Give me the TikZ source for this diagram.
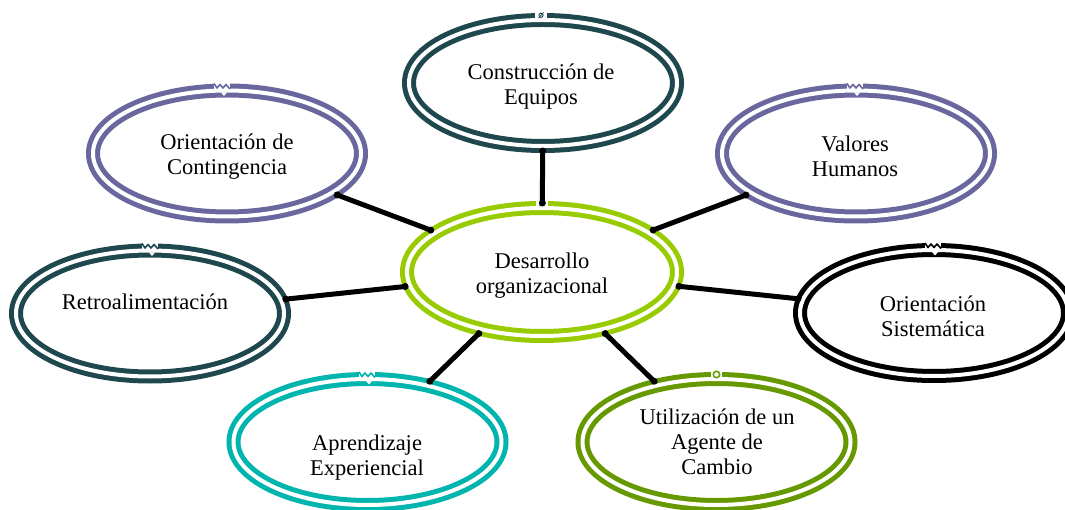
\documentclass[tikz,border=0pt]{standalone}
\usepackage{fontspec}
\setmainfont{Liberation Serif}
\usetikzlibrary{shapes.geometric}
\definecolor{dteal}{RGB}{30,72,78}
\definecolor{purp}{RGB}{106,103,158}
\definecolor{lime}{RGB}{153,204,0}
\definecolor{aqua}{RGB}{0,181,173}
\definecolor{olive}{RGB}{102,153,0}
\tikzset{
  ring/.style={ellipse, draw=#1, line width=5pt, double=white, double distance=4pt,
    minimum width=268pt, minimum height=126pt, inner sep=0pt, outer sep=5pt},
  lbl/.style={anchor=base, inner sep=0pt, font=\fontsize{22.5}{25}\selectfont},
  conn/.style={line width=5pt, line cap=butt},
  enddot/.style={circle, fill=black, inner sep=0pt, minimum size=7pt},
  gapfill/.style={fill=white, draw=none},
}
\newcommand{\lines}[1]{\begin{tabular}[t]{@{}c@{}}#1\end{tabular}}
% zigzag notch at the top of the outer ring
\newcommand{\zignotch}[3]{%
  \fill[gapfill] (#1-8,#2-71.5) rectangle (#1+8,#2-64);
  \draw[#3, line width=1.6pt, line join=round]
    (#1-8,#2-70) -- (#1-5,#2-65.5) -- (#1-2,#2-69) -- (#1+1,#2-65.5) -- (#1+4,#2-69) -- (#1+8,#2-64.5);
  \fill[white] (#1-1,#2-61) -- (#1+5,#2-61) -- (#1+2,#2-57.5) -- cycle;
}
\newcommand{\onotch}[3]{%
  \fill[gapfill] (#1-6,#2-71.5) rectangle (#1+6,#2-64);
  \draw[#3, line width=0.9pt] (#1,#2-67.7) circle (2.1);
  \draw[#3, line width=0.8pt] (#1-2.5,#2-64.8) -- (#1+2.5,#2-70.6);
}
\begin{document}
\begin{tikzpicture}[x=1pt,y=-1pt]
\useasboundingbox[fill=white] (0,0) rectangle (1065,510);

% rings
\node[ring=dteal] (T)  at (543,83)    {};
\node[ring=lime, minimum width=270pt, minimum height=128pt] (C) at (542,272) {};
\node[ring=purp]  (OC) at (227,153.5) {};
\node[ring=purp]  (VH) at (856,153.5) {};
\node[ring=dteal] (R)  at (150,313.5) {};
\node[ring=black] (OS) at (934,313)   {};
\node[ring=aqua]  (AE) at (367.5,442) {};
\node[ring=olive] (U)  at (716.5,442) {};

% small marks at the top of the rings
\onotch{541}{83}{dteal}
\onotch{542}{271}{dteal}
\zignotch{222}{153.5}{purp}
\zignotch{855}{153.5}{purp}
\zignotch{150}{313.5}{dteal}
\zignotch{933}{313}{black}
\zignotch{367}{442}{aqua}
\fill[gapfill] (711,371) rectangle (722,377);
\draw[olive, line width=1.5pt, fill=white] (716.5,374.5) circle (3.2);

% labels
\node[lbl] (tT)  at (541,80)  {\lines{Construcción de\\Equipos}};
\node[lbl] (tOC) at (227,150) {\lines{Orientación de\\Contingencia}};
\node[lbl] (tVH) at (855,152) {\lines{Valores\\Humanos}};
\node[lbl] (tC)  at (542,269) {\lines{Desarrollo\\organizacional}};
\node[lbl] (tR)  at (145,310) {Retroalimentación};
\node[lbl] (tOS) at (933,312) {\lines{Orientación\\Sistemática}};
\node[lbl] (tAE) at (367,450) {\lines{Aprendizaje\\Experiencial}};
\node[lbl] (tU)  at (717,424) {\lines{Utilización de un\\Agente de\\Cambio}};

% connectors
\foreach \n in {T,OC,VH,R,OS,AE,U}{
  \draw[conn] (C) -- (\n) node[enddot, pos=0]{} node[enddot, pos=1]{};
}
\end{tikzpicture}
\end{document}
